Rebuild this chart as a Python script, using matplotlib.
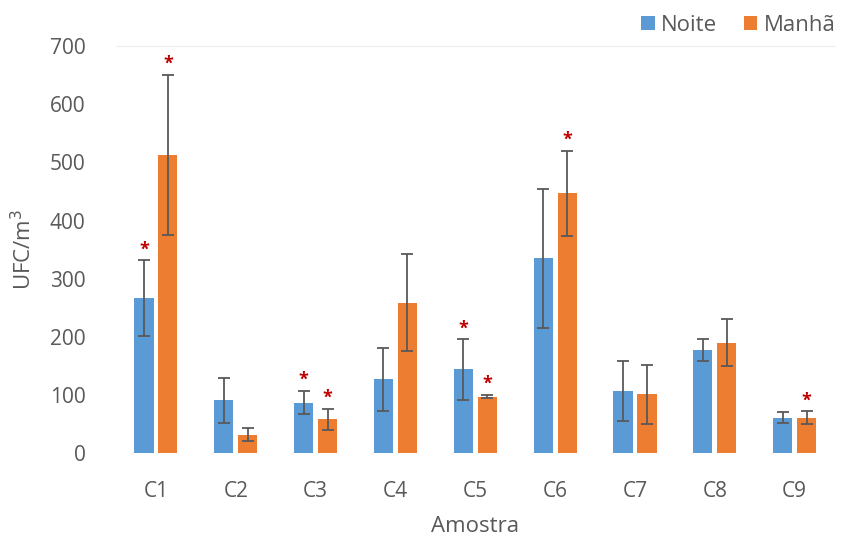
import matplotlib
matplotlib.use("Agg")
import matplotlib.pyplot as plt
import numpy as np

categories = ["C1", "C2", "C3", "C4", "C5", "C6", "C7", "C8", "C9"]
noite = [267, 91, 87, 127, 144, 335, 107, 177, 61]
noite_sd = [65, 39, 20, 54, 52, 119, 51, 19, 9]
manha = [513, 32, 58, 259, 97, 447, 101, 190, 61]
manha_sd = [138, 12, 18, 83, 3, 73, 51, 41, 11]
noite_sig = [True, False, True, False, True, False, False, False, False]
manha_sig = [True, False, True, False, True, True, False, False, True]

plt.rcParams['font.family'] = ['Open Sans', 'DejaVu Sans']

fig = plt.figure(figsize=(8.56, 5.42), dpi=100)
ax = fig.add_axes([0.1355, 0.164, 0.8395, 0.751])

x = np.arange(len(categories))
w = 0.24
gap = 0.03
blue = "#5B9BD5"
orange = "#ED7D31"
errc = "#595959"

ax.bar(x - w/2 - gap, noite, w, color=blue, label="Noite", zorder=2)
ax.bar(x + w/2 + gap, manha, w, color=orange, label="Manhã", zorder=2)
ax.errorbar(x - w/2 - gap, noite, yerr=noite_sd, fmt='none', ecolor=errc,
            elinewidth=1.3, capsize=4, capthick=1.3, zorder=3)
ax.errorbar(x + w/2 + gap, manha, yerr=manha_sd, fmt='none', ecolor=errc,
            elinewidth=1.3, capsize=4, capthick=1.3, zorder=3)

for i in range(len(categories)):
    if noite_sig[i]:
        ax.text(x[i] - w/2 - gap, noite[i] + noite_sd[i] + 3, "*", color="#C00000",
                ha="center", va="bottom", fontsize=13, fontweight="bold")
    if manha_sig[i]:
        ax.text(x[i] + w/2 + gap, manha[i] + manha_sd[i] + 3, "*", color="#C00000",
                ha="center", va="bottom", fontsize=13, fontweight="bold")

ax.set_xlim(-0.5, len(categories) - 0.5)
ax.set_ylim(0, 700)
ax.set_yticks(range(0, 701, 100))
ax.set_xticks(x)
ax.set_xticklabels(categories)
ax.tick_params(axis='both', length=0, colors="#595959", labelsize=15)
ax.tick_params(axis='x', pad=20)
ax.tick_params(axis='y', pad=22)
for s in ["left", "right", "bottom"]:
    ax.spines[s].set_visible(False)
ax.spines["top"].set_color("#EDEDED")
ax.set_xlabel("Amostra", fontsize=16, color="#595959", labelpad=10)
ax.set_ylabel("UFC/m$^3$", fontsize=16, color="#595959", labelpad=10)

leg = fig.legend(loc="upper right", bbox_to_anchor=(1.0, 1.01), ncol=2, frameon=False,
                 fontsize=16, handlelength=0.6, handleheight=0.6, columnspacing=1.2,
                 handletextpad=0.3, labelcolor="#595959")

fig.savefig("out.png", dpi=100)
